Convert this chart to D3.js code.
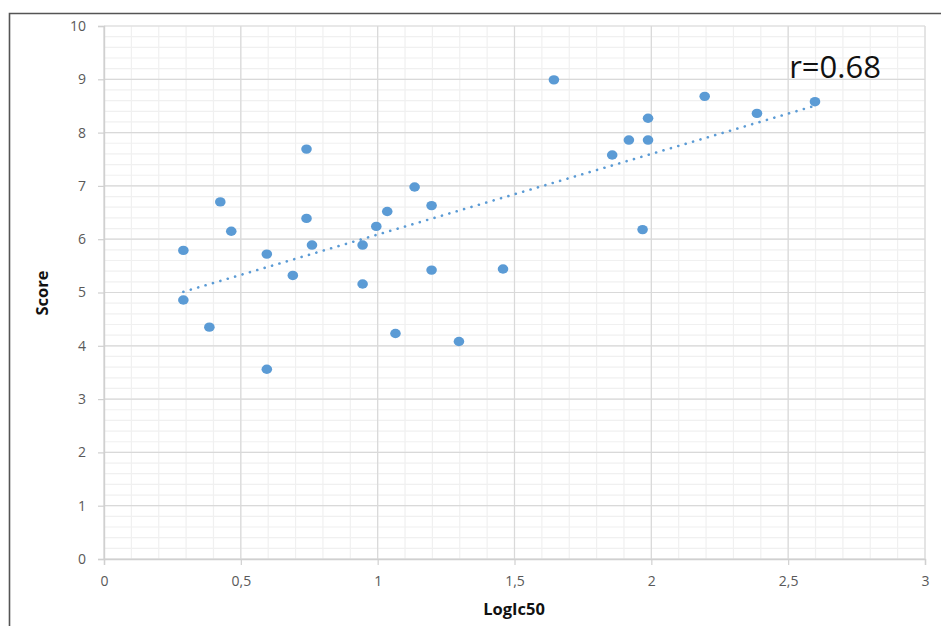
<!DOCTYPE html>
<html>
<head>
<meta charset="utf-8">
<script src="https://cdn.jsdelivr.net/npm/d3@7"></script>
<style>
  body { margin: 0; background: #fff; }
  svg { display: block; }
</style>
</head>
<body>
<div id="chart"></div>
<script>
// values
const logIc50 = [0.29, 0.29, 0.385, 0.425, 0.465, 0.595, 0.595, 0.69, 0.74, 0.74, 0.76,
  0.945, 0.945, 0.995, 1.035, 1.065, 1.135, 1.197, 1.197, 1.297, 1.458,
  1.644, 1.857, 1.918, 1.988, 1.988, 1.968, 2.195, 2.386, 2.598];
const score = [5.79, 4.86, 4.35, 6.70, 6.15, 5.72, 3.56, 5.32, 7.69, 6.39, 5.89,
  5.89, 5.16, 6.24, 6.52, 4.23, 6.98, 6.63, 5.42, 4.08, 5.44,
  8.99, 7.58, 7.86, 8.27, 7.86, 6.18, 8.68, 8.36, 8.58];
const xTicks = [0, 0.5, 1, 1.5, 2, 2.5, 3];
const yTicks = [0, 1, 2, 3, 4, 5, 6, 7, 8, 9, 10];
const rLabel = "r=0.68";

const W = 941, H = 626;
const margin = {top: 26, right: 16, bottom: 67, left: 104};
const width = 925 - margin.left,
  height = 559 - margin.top;

const svg = d3.select("#chart").append("svg")
  .attr("width", W).attr("height", H);

// outer frame (cut off at right/bottom like the screenshot)
svg.append("path")
  .attr("d", "M9.5," + (H + 2) + "V13.5H" + (W + 2))
  .attr("fill", "none").attr("stroke", "#555").attr("stroke-width", 1.6);

const g = svg.append("g").attr("transform", `translate(${margin.left},${margin.top})`);

const x = d3.scaleLinear().domain([0, 3]).range([0, width]);
const y = d3.scaleLinear().domain([0, 10]).range([height, 0]);

// minor grid
g.append("g").selectAll("line").data(d3.range(0, 30.01, 1).map(d => d / 10))
  .join("line")
  .attr("x1", d => x(d)).attr("x2", d => x(d)).attr("y1", 0).attr("y2", height)
  .attr("stroke", "#f0f0f0").attr("stroke-width", 1.2);
g.append("g").selectAll("line").data(d3.range(0, 50.01, 1).map(d => d / 5))
  .join("line")
  .attr("y1", d => y(d)).attr("y2", d => y(d)).attr("x1", 0).attr("x2", width)
  .attr("stroke", "#f0f0f0").attr("stroke-width", 1.2);

// major grid
g.append("g").selectAll("line").data(xTicks).join("line")
  .attr("x1", d => x(d)).attr("x2", d => x(d)).attr("y1", 0).attr("y2", height)
  .attr("stroke", "#d9d9d9").attr("stroke-width", 1.2);
g.append("g").selectAll("line").data(yTicks).join("line")
  .attr("y1", d => y(d)).attr("y2", d => y(d)).attr("x1", 0).attr("x2", width)
  .attr("stroke", "#d9d9d9").attr("stroke-width", 1.2);

// axes
const xAxis = g.append("g").attr("transform", `translate(0,${height})`)
  .call(d3.axisBottom(x).tickValues(xTicks).tickSize(6).tickPadding(11)
    .tickFormat(d => String(d).replace(".", ",")));
const yAxis = g.append("g")
  .call(d3.axisLeft(y).tickValues(yTicks).tickSize(6).tickPadding(12));
[xAxis, yAxis].forEach(a => {
  a.select(".domain").attr("stroke", "#d0d0d0").attr("stroke-width", 1.4);
  a.selectAll(".tick line").attr("stroke", "#d0d0d0").attr("stroke-width", 1.2);
  a.selectAll("text").attr("fill", "#595959")
    .style("font-family", "'Open Sans', sans-serif").style("font-size", "14px");
});

// trend line (least squares)
const mx = d3.mean(logIc50), my = d3.mean(score);
const slope = d3.sum(logIc50, (v, i) => (v - mx) * (score[i] - my)) /
  d3.sum(logIc50, v => (v - mx) * (v - mx));
const icpt = my - slope * mx;
const [x0, x1] = d3.extent(logIc50);
g.append("line")
  .attr("x1", x(x0)).attr("y1", y(icpt + slope * x0))
  .attr("x2", x(x1)).attr("y2", y(icpt + slope * x1))
  .attr("stroke", "#5b9bd5").attr("stroke-width", 2.6)
  .attr("stroke-linecap", "round").attr("stroke-dasharray", "0.1 7.6");

// points
g.append("g").selectAll("ellipse").data(logIc50).join("ellipse")
  .attr("cx", d => x(d)).attr("cy", (d, i) => y(score[i]))
  .attr("rx", 5.3).attr("ry", 4.7)
  .attr("fill", "#5b9bd5");

// r label
g.append("text")
  .attr("x", x(2.5) + 1).attr("y", y(9.0) - 1)
  .attr("fill", "#111")
  .style("font-family", "'Open Sans', sans-serif").style("font-size", "31px")
  .text(rLabel);

// axis titles
svg.append("text")
  .attr("transform", "translate(48,293) rotate(-90)")
  .attr("text-anchor", "middle")
  .style("font-family", "'Open Sans', sans-serif").style("font-size", "16.5px")
  .style("font-weight", "bold").attr("fill", "#111")
  .text("Score");
svg.append("text")
  .attr("x", 514).attr("y", 615)
  .attr("text-anchor", "middle")
  .style("font-family", "'Open Sans', sans-serif").style("font-size", "16.5px")
  .style("font-weight", "bold").attr("fill", "#111")
  .text("LogIc50");
</script>
</body>
</html>
